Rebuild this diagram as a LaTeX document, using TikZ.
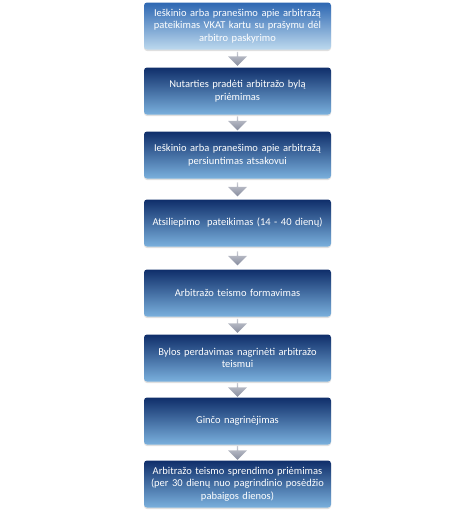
\documentclass[tikz,border=0pt]{standalone}
\usepackage{fontspec}
\setmainfont{Carlito}
\usetikzlibrary{shapes.arrows,shadows,calc}
\definecolor{navytop}{HTML}{0F2E6A}
\definecolor{navybot}{HTML}{7AB0DD}
\definecolor{firsttop}{HTML}{2D67B2}
\definecolor{firstbot}{HTML}{BDD9EE}
\definecolor{arrtop}{HTML}{C9CBD3}
\definecolor{arrbot}{HTML}{868C9E}
\tikzset{
  stepbox/.style={rectangle, rounded corners=3pt, top color=navytop, bottom color=navybot,
    minimum width=187pt, minimum height=47pt, text width=180pt, align=center,
    text=white, font=\fontsize{10.5}{12.5}\selectfont,
    drop shadow={opacity=0.25, shadow xshift=0pt, shadow yshift=-1.5pt}},
  firstbox/.style={stepbox, top color=firsttop, bottom color=firstbot},
  downarrow/.style={single arrow, shape border rotate=270, top color=arrtop, bottom color=arrbot,
    minimum height=14pt, minimum width=19pt, single arrow head extend=3pt, inner sep=0pt}
}
\begin{document}
\begin{tikzpicture}
  \useasboundingbox (0,0) rectangle (474pt,-514pt);
  \node[firstbox] (b1) at (237.5pt,-26pt) {Ieškinio arba pranešimo apie arbitražą\\pateikimas VKAT kartu su prašymu dėl\\arbitro paskyrimo};
  \node[stepbox] (b2) at (237.5pt,-91pt) {Nutarties pradėti arbitražo bylą\\priėmimas};
  \node[stepbox] (b3) at (237.5pt,-155pt) {Ieškinio arba pranešimo apie arbitražą\\persiuntimas atsakovui};
  \node[stepbox] (b4) at (237.5pt,-223pt) {Atsiliepimo\ \ pateikimas (14 - 40 dienų)};
  \node[stepbox] (b5) at (237.5pt,-293pt) {Arbitražo teismo formavimas};
  \node[stepbox] (b6) at (237.5pt,-358pt) {Bylos perdavimas nagrinėti arbitražo\\teismui};
  \node[stepbox] (b7) at (237.5pt,-421pt) {Ginčo nagrinėjimas};
  \node[stepbox] (b8) at (237.5pt,-484pt) {Arbitražo teismo sprendimo priėmimas\\(per 30 dienų nuo pagrindinio posėdžio\\pabaigos dienos)};
  % arrows between the steps
  \foreach \a/\b in {b1/b2,b2/b3,b3/b4,b4/b5,b5/b6,b6/b7,b7/b8}
    \node[downarrow] (\a\b) at ($(\a.south)!0.5!(\b.north)$) {};
\end{tikzpicture}
\end{document}
